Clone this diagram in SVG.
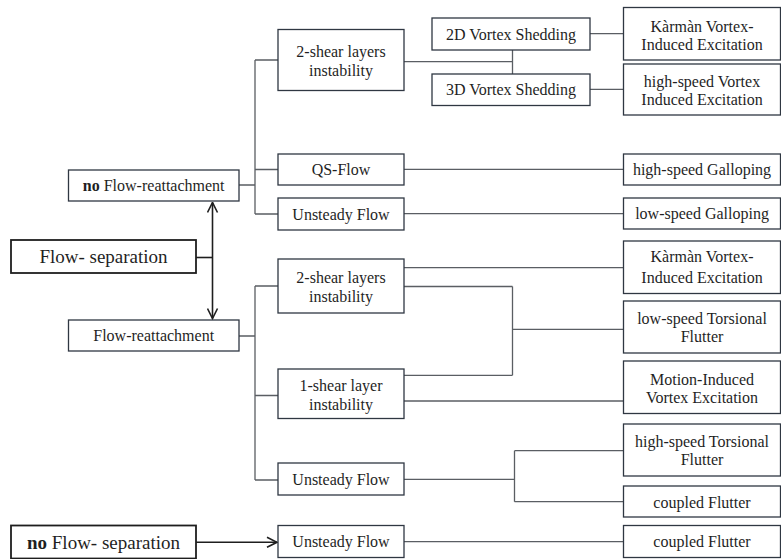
<svg xmlns="http://www.w3.org/2000/svg" width="781" height="559" viewBox="0 0 781 559">
<style>
  .box { fill: #ffffff; stroke: #2f3742; stroke-width: 1.3; }
  .big { fill: #ffffff; stroke: #1e1e1e; stroke-width: 1.8; }
  .t { font-size: 16px; fill: #1f1f1f; text-anchor: middle; }
  .lg { font-size: 19px; }
  .b { font-weight: bold; }
  .conn { fill: none; stroke: #5a5e63; stroke-width: 1.3; }
  .arr { fill: none; stroke: #1e1e1e; stroke-width: 1.6; }
</style>
<defs>
  <marker id="ah" viewBox="0 0 12 12" refX="11" refY="6" markerWidth="12" markerHeight="12" markerUnits="userSpaceOnUse" orient="auto-start-reverse">
    <path d="M1,1 L11,6 L1,11" fill="none" stroke="#1e1e1e" stroke-width="1.6"/>
  </marker>
</defs>
<rect width="781" height="559" fill="#ffffff"/>

<g id="connectors">
  <path class="conn" d="M239,185 H255 M255,60 V214 M255,60 H278 M255,169.5 H278 M255,214 H278"/>
  <path class="conn" d="M239,336 H255 M255,286 V480 M255,286 H278 M255,395.5 H278 M255,480 H278"/>
  <path class="conn" d="M404,61.7 H512.5 M512.5,50 V74"/>
  <path class="conn" d="M590,33.7 H623 M590,89.3 H623"/>
  <path class="conn" d="M404,169.3 H623 M404,213.7 H623 M404,267.7 H623"/>
  <path class="conn" d="M404,286.5 H512.5 M512.5,286.5 V375.3 M404,375.3 H512.5 M512.5,329.3 H623"/>
  <path class="conn" d="M404,401 H623"/>
  <path class="conn" d="M404,479.3 H514.5 M514.5,450.7 V501.7 M514.5,450.7 H623 M514.5,501.7 H623"/>
  <path class="conn" d="M404,541.7 H623"/>
  <path class="arr" d="M196,257.5 H212.5"/>
  <path class="arr" d="M212.5,202.5 V318.5" marker-start="url(#ah)" marker-end="url(#ah)"/>
  <path class="arr" d="M196,542.3 H277" marker-end="url(#ah)"/>
</g>

<g id="flow-separation">
  <rect class="big" x="11" y="240" width="185" height="33"/>
  <text class="t lg" font-family="Liberation Serif" x="103.5" y="263">Flow- separation</text>
</g>
<g id="no-flow-reattachment">
  <rect class="box" x="68.5" y="170" width="170.5" height="31"/>
  <text class="t" font-family="Liberation Serif" x="153.7" y="191"><tspan class="b">no</tspan> Flow-reattachment</text>
</g>
<g id="flow-reattachment">
  <rect class="box" x="68.5" y="320" width="170.5" height="31"/>
  <text class="t" font-family="Liberation Serif" x="153.7" y="341">Flow-reattachment</text>
</g>
<g id="no-flow-separation">
  <rect class="big" x="11" y="525.5" width="185" height="33"/>
  <text class="t lg" font-family="Liberation Serif" x="103.5" y="548.5"><tspan class="b">no</tspan> Flow- separation</text>
</g>

<g id="a1-two-shear">
  <rect class="box" x="278" y="29.5" width="126" height="61"/>
  <text class="t" font-family="Liberation Serif" x="341" y="56.5">2-shear layers</text>
  <text class="t" font-family="Liberation Serif" x="341" y="75.5">instability</text>
</g>
<g id="a2-qs-flow">
  <rect class="box" x="278" y="154" width="126" height="31"/>
  <text class="t" font-family="Liberation Serif" x="341" y="175">QS-Flow</text>
</g>
<g id="a3-unsteady">
  <rect class="box" x="278" y="198" width="126" height="32"/>
  <text class="t" font-family="Liberation Serif" x="341" y="219.5">Unsteady Flow</text>
</g>
<g id="b1-two-shear">
  <rect class="box" x="278" y="259" width="126" height="54"/>
  <text class="t" font-family="Liberation Serif" x="341" y="283">2-shear layers</text>
  <text class="t" font-family="Liberation Serif" x="341" y="301.5">instability</text>
</g>
<g id="b2-one-shear">
  <rect class="box" x="278" y="369" width="126" height="49.5"/>
  <text class="t" font-family="Liberation Serif" x="341" y="390.5">1-shear layer</text>
  <text class="t" font-family="Liberation Serif" x="341" y="409.5">instability</text>
</g>
<g id="b3-unsteady">
  <rect class="box" x="278" y="463" width="126" height="32"/>
  <text class="t" font-family="Liberation Serif" x="341" y="484.5">Unsteady Flow</text>
</g>
<g id="b4-unsteady">
  <rect class="box" x="278" y="525.5" width="126" height="32"/>
  <text class="t" font-family="Liberation Serif" x="341" y="547">Unsteady Flow</text>
</g>

<g id="c1-2d-vortex">
  <rect class="box" x="432" y="18" width="158" height="32"/>
  <text class="t" font-family="Liberation Serif" x="511" y="39.5">2D Vortex Shedding</text>
</g>
<g id="c2-3d-vortex">
  <rect class="box" x="432" y="74" width="158" height="31.5"/>
  <text class="t" font-family="Liberation Serif" x="511" y="95">3D Vortex Shedding</text>
</g>

<g id="r1-karman">
  <rect class="box" x="623.5" y="7.5" width="157" height="52.5"/>
  <text class="t" font-family="Liberation Serif" x="702" y="32">Kàrmàn Vortex-</text>
  <text class="t" font-family="Liberation Serif" x="702" y="50">Induced Excitation</text>
</g>
<g id="r2-hs-vortex">
  <rect class="box" x="623.5" y="64" width="157" height="51"/>
  <text class="t" font-family="Liberation Serif" x="702" y="87">high-speed Vortex</text>
  <text class="t" font-family="Liberation Serif" x="702" y="105">Induced Excitation</text>
</g>
<g id="r3-hs-galloping">
  <rect class="box" x="623.5" y="154" width="157" height="31"/>
  <text class="t" font-family="Liberation Serif" x="702" y="175">high-speed Galloping</text>
</g>
<g id="r4-ls-galloping">
  <rect class="box" x="623.5" y="198" width="157" height="31"/>
  <text class="t" font-family="Liberation Serif" x="702" y="219">low-speed Galloping</text>
</g>
<g id="r5-karman">
  <rect class="box" x="623.5" y="241" width="157" height="52.5"/>
  <text class="t" font-family="Liberation Serif" x="702" y="262">Kàrmàn Vortex-</text>
  <text class="t" font-family="Liberation Serif" x="702" y="283">Induced Excitation</text>
</g>
<g id="r6-ls-torsional">
  <rect class="box" x="623.5" y="301" width="157" height="52"/>
  <text class="t" font-family="Liberation Serif" x="702" y="323.5">low-speed Torsional</text>
  <text class="t" font-family="Liberation Serif" x="702" y="342">Flutter</text>
</g>
<g id="r7-motion-induced">
  <rect class="box" x="623.5" y="361" width="157" height="52.5"/>
  <text class="t" font-family="Liberation Serif" x="702" y="384.5">Motion-Induced</text>
  <text class="t" font-family="Liberation Serif" x="702" y="403">Vortex Excitation</text>
</g>
<g id="r8-hs-torsional">
  <rect class="box" x="623.5" y="424" width="157" height="52"/>
  <text class="t" font-family="Liberation Serif" x="702" y="446.5">high-speed Torsional</text>
  <text class="t" font-family="Liberation Serif" x="702" y="465">Flutter</text>
</g>
<g id="r9-coupled">
  <rect class="box" x="623.5" y="486" width="157" height="31"/>
  <text class="t" font-family="Liberation Serif" x="702" y="508">coupled Flutter</text>
</g>
<g id="r10-coupled">
  <rect class="box" x="623.5" y="525.5" width="157" height="32"/>
  <text class="t" font-family="Liberation Serif" x="702" y="547">coupled Flutter</text>
</g>
</svg>
